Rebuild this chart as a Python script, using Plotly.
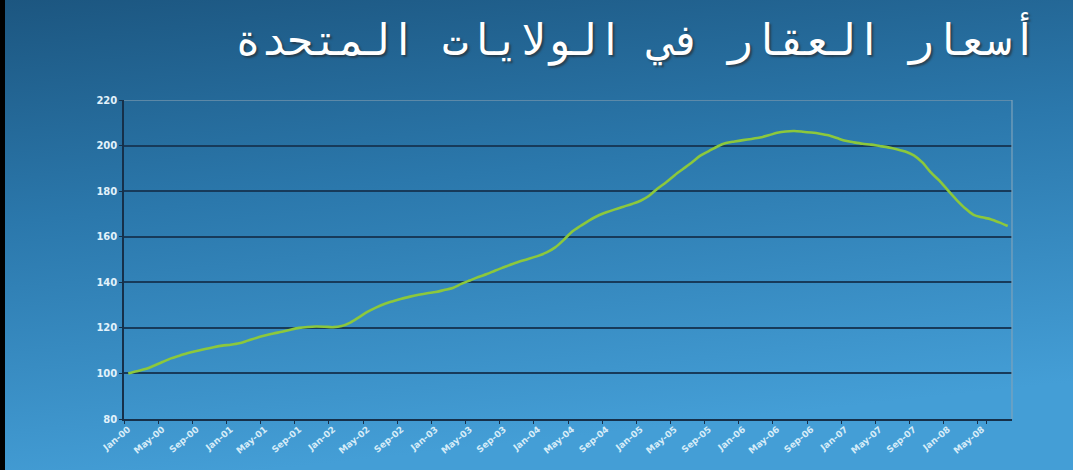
import base64
import plotly.graph_objects as go

# Monthly home price index, Jan 2000 = 100
month_names = ["Jan", "Feb", "Mar", "Apr", "May", "Jun",
               "Jul", "Aug", "Sep", "Oct", "Nov", "Dec"]
years = ["00", "01", "02", "03", "04", "05", "06", "07", "08"]

y2000 = [100.0, 101.0, 101.9, 103.4, 105.0, 106.6, 107.8, 109.0, 109.8, 110.7, 111.5, 112.2]
y2001 = [112.6, 113.2, 114.4, 115.6, 116.6, 117.5, 118.3, 119.2, 120.0, 120.4, 120.6, 120.5]
y2002 = [120.3, 120.8, 122.3, 124.6, 127.0, 128.9, 130.5, 131.7, 132.8, 133.7, 134.5, 135.2]
y2003 = [135.7, 136.6, 137.5, 139.3, 140.8, 142.3, 143.6, 145.2, 146.6, 148.0, 149.3, 150.4]
y2004 = [151.6, 153.1, 155.3, 158.6, 162.3, 164.8, 167.2, 169.2, 170.7, 172.0, 173.2, 174.4]
y2005 = [175.8, 178.0, 181.2, 183.9, 187.0, 189.8, 192.6, 195.6, 197.6, 199.6, 201.1, 201.8]
y2006 = [202.4, 202.9, 203.5, 204.5, 205.6, 206.2, 206.4, 206.1, 205.7, 205.2, 204.5, 203.3]
y2007 = [202.1, 201.4, 200.8, 200.4, 199.8, 199.2, 198.4, 197.4, 195.7, 192.6, 188.2, 184.6]
y2008 = [180.3, 176.2, 172.5, 169.6, 168.5, 167.7, 166.3, 164.7]

y_ticks = [80, 100, 120, 140, 160, 180, 200, 220]
title_text = "أسعار العقار في الولايات المتحدة"

values = y2000 + y2001 + y2002 + y2003 + y2004 + y2005 + y2006 + y2007 + y2008
months = [f"{m}-{y}" for y in years for m in month_names][:len(values)]
tick_months = months[::4]

W, H = 1073, 470
ML, MR, MT, MB = 124, 61, 100, 51
PW, PH = W - ML - MR, H - MT - MB

# slide background: blue gradient with a dark strip on the left edge
svg = (
    f"<svg xmlns='http://www.w3.org/2000/svg' width='{W}' height='{H}' "
    f"viewBox='0 0 {W} {H}' preserveAspectRatio='none'>"
    "<defs><linearGradient id='g' x1='0' y1='0' x2='0.25' y2='1'>"
    "<stop offset='0' stop-color='#1c5680'/>"
    "<stop offset='0.45' stop-color='#2b78ac'/>"
    "<stop offset='1' stop-color='#449ed6'/>"
    "</linearGradient></defs>"
    f"<rect width='{W}' height='{H}' fill='url(#g)'/>"
    f"<rect width='5' height='{H}' fill='#000000'/>"
    "</svg>"
)
bg_uri = "data:image/svg+xml;base64," + base64.b64encode(svg.encode()).decode()

fig = go.Figure()
fig.add_trace(go.Scatter(
    x=months, y=values, mode="lines",
    line=dict(color="#8cc83c", width=2.6, shape="spline", smoothing=0.8),
    hoverinfo="x+y", showlegend=False,
))

x_tick_font = dict(family="DejaVu Sans", size=9, color="#d6ecf8", weight="bold")
y_tick_font = dict(family="DejaVu Sans", size=10, color="#e2f2fb", weight="bold")

fig.update_layout(
    width=W, height=H,
    margin=dict(l=ML, r=MR, t=MT, b=MB, pad=0),
    paper_bgcolor="#2f7fb4",
    plot_bgcolor="rgba(0,0,0,0)",
    images=[dict(
        source=bg_uri, xref="paper", yref="paper",
        x=-ML / PW, y=1 + MT / PH, sizex=W / PW, sizey=H / PH,
        xanchor="left", yanchor="top", sizing="stretch", layer="below",
    )],
    xaxis=dict(
        type="category", categoryorder="array", categoryarray=months,
        range=[-0.5, len(months) - 0.5],
        tickmode="array", tickvals=tick_months, ticktext=tick_months,
        tickson="boundaries", ticks="outside", ticklen=3, tickwidth=1,
        tickcolor="#16304a", tickangle=-40, tickfont=x_tick_font,
        showgrid=False, showline=True, linecolor="#16304a", linewidth=1.5,
        zeroline=False,
    ),
    yaxis=dict(
        range=[80, 220], tickmode="array", tickvals=y_ticks,
        ticks="outside", ticklen=3, tickcolor="#16304a", tickfont=y_tick_font,
        showgrid=True, gridcolor="#173a5a", gridwidth=1.5,
        showline=True, linecolor="#16304a", linewidth=1.5, zeroline=False,
    ),
    shapes=[
        dict(type="line", xref="paper", yref="y", x0=0, x1=1, y0=220, y1=220,
             line=dict(color="#6f93ad", width=1.5)),
        dict(type="line", xref="paper", yref="paper", x0=1, x1=1, y0=0, y1=1,
             line=dict(color="#7fa3bb", width=1.2)),
    ],
    annotations=[dict(
        text=title_text, xref="paper", yref="paper",
        x=(1040 - ML) / PW, y=1 + (MT - 39) / PH,
        xanchor="right", yanchor="middle", showarrow=False,
        font=dict(family="DejaVu Sans Mono", size=43, color="#ffffff",
                  shadow="2px 2px 2px rgba(40,40,40,0.6)"),
    )],
)

fig.write_html("out.html")
